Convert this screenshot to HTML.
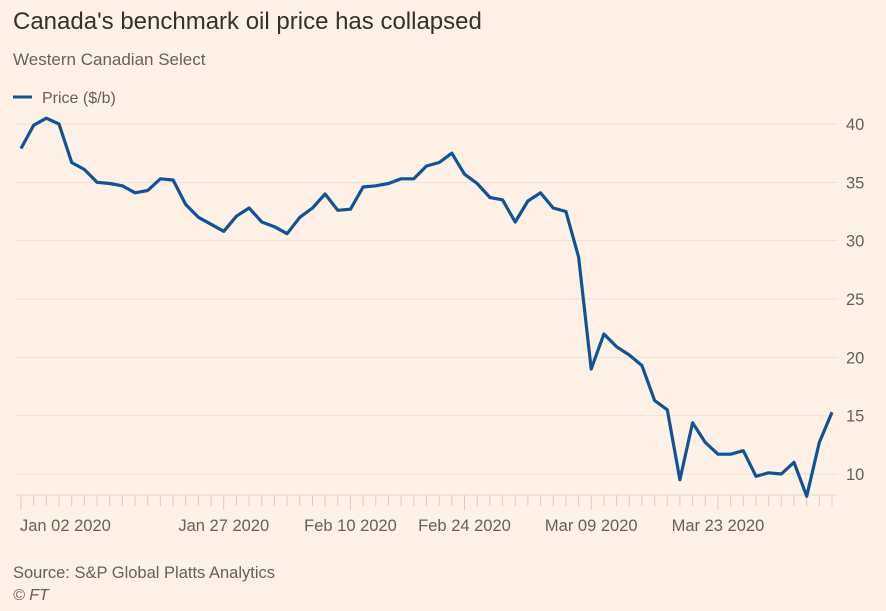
<!DOCTYPE html>
<html><head><meta charset="utf-8"><style>
body{margin:0;background:#fff1e5;font-family:"Liberation Sans",sans-serif;}
#c{width:886px;height:611px;position:relative;overflow:hidden;}
</style></head><body>
<div id="c">
<svg id="s" width="886" height="611">
<text x="13" y="29" font-size="24" fill="#33302e">Canada's benchmark oil price has collapsed</text>
<text x="13" y="65" font-size="17" fill="#66605c">Western Canadian Select</text>
<line x1="13" y1="97" x2="32" y2="97" stroke="#0f5499" stroke-width="3"/>
<text x="42" y="103" font-size="16" fill="#66605c">Price ($/b)</text>
<g id="grid"></g><g id="xax"></g>
<path id="line" fill="none" stroke="#0f5499" stroke-width="3.2" stroke-linejoin="round"/>
<text x="13" y="578" font-size="16.5" fill="#66605c">Source: S&amp;P Global Platts Analytics</text>
<text x="13" y="600" font-size="16" font-style="italic" fill="#66605c">© FT</text>
</svg></div>
<script>
const values=[37.9,39.9,40.5,40.0,36.7,36.1,35.0,34.9,34.7,34.1,34.3,35.3,35.2,33.1,32.0,31.4,30.8,32.1,32.8,31.6,31.2,30.6,32.0,
32.8,34.0,32.6,32.7,34.6,34.7,34.9,35.3,35.3,36.4,36.7,37.5,35.7,34.9,33.7,33.5,31.6,33.4,34.1,32.8,32.5,
28.6,19.0,22.0,20.9,20.2,19.3,16.3,15.5,9.5,14.4,12.7,11.7,11.7,12.0,9.8,10.1,10.0,11.0,8.1,12.7,15.3];
const yTicks=[10,15,20,25,30,35,40];
const xLabels=["Jan 02 2020","Jan 27 2020","Feb 10 2020","Feb 24 2020","Mar 09 2020","Mar 23 2020"];
const xLabelIdx=[0,16,26,35,45,55];
const NS="http://www.w3.org/2000/svg";
const x0=21,x1=832,yTop=124,yBot=474;
const xs=i=>x0+(x1-x0)*i/(values.length-1);
const ys=v=>yBot-(v-10)*(yBot-yTop)/30;
const grid=document.getElementById('grid');
yTicks.forEach(t=>{
 const l=document.createElementNS(NS,'line');
 
 
 l.setAttribute('x1',15);l.setAttribute('x2',838);l.setAttribute('y1',ys(t));l.setAttribute('y2',ys(t));
 l.setAttribute('stroke','#ebe1d8');l.setAttribute('stroke-width','1');grid.appendChild(l);
 const tx=document.createElementNS(NS,'text');
 
 
 tx.setAttribute('x',846);tx.setAttribute('y',ys(t)+6);tx.setAttribute('font-size','16.5');tx.setAttribute('fill','#66605c');
 tx.textContent=t;grid.appendChild(tx);
});
const xax=document.getElementById('xax');
const al=document.createElementNS(NS,'line');


al.setAttribute('x1',15);al.setAttribute('x2',838);al.setAttribute('y1',495);al.setAttribute('y2',495);
al.setAttribute('stroke','#e6dbd1');xax.appendChild(al);
values.forEach((v,i)=>{
 const t=document.createElementNS(NS,'line');
 
 
 const long=xLabelIdx.includes(i);
 t.setAttribute('x1',xs(i));t.setAttribute('x2',xs(i));t.setAttribute('y1',495);t.setAttribute('y2',long?510:506);
 t.setAttribute('stroke','#d8cdc3');xax.appendChild(t);
});
xLabels.forEach((lab,k)=>{
 const tx=document.createElementNS(NS,'text');
 
 
 tx.setAttribute('x',xs(xLabelIdx[k])+(k==0?-1:0));tx.setAttribute('y',531);tx.setAttribute('font-size','16.5');
 tx.setAttribute('fill','#66605c');tx.setAttribute('text-anchor',k==0?'start':'middle');
 tx.textContent=lab;xax.appendChild(tx);
});
document.getElementById('line').setAttribute('d',values.map((v,i)=>(i?'L':'M')+xs(i).toFixed(1)+','+ys(v).toFixed(1)).join(''));
</script>
</body></html>
